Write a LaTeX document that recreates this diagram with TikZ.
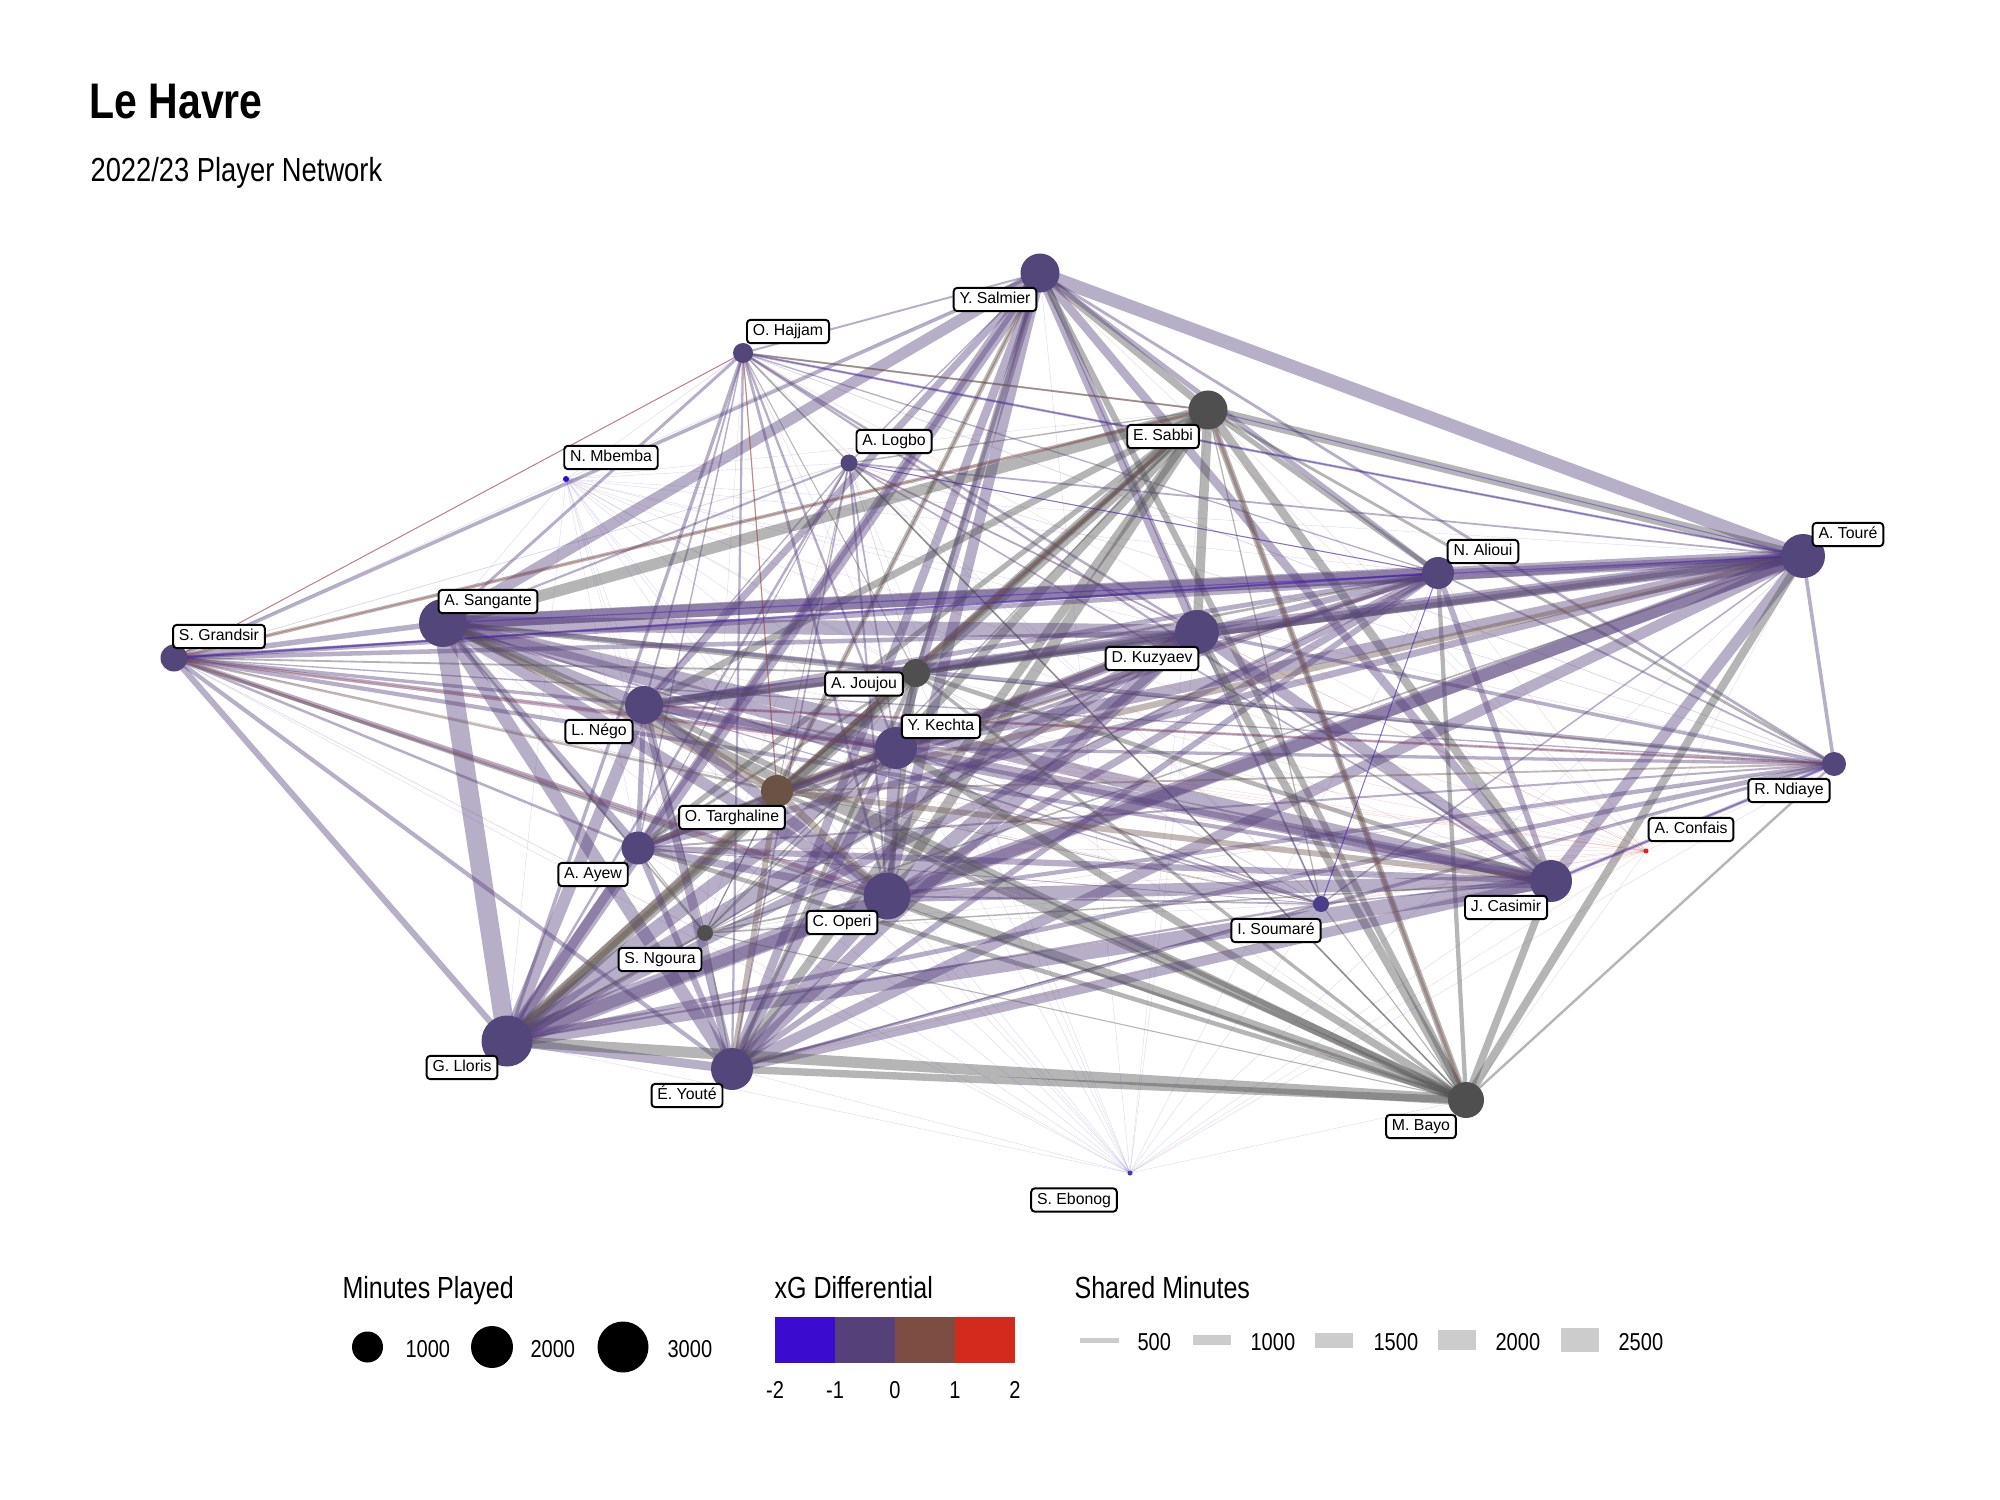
\documentclass[tikz,border=0pt]{standalone}
\usepackage{fontspec}
\setmainfont[FakeStretch=0.82]{Liberation Sans}
\newfontfamily\labfont{Liberation Sans}
\usetikzlibrary{calc}
\pgfdeclarelayer{bg}
\pgfdeclarelayer{edges}
\pgfsetlayers{bg,edges,main}
\definecolor{ec0}{HTML}{55407A}
\definecolor{ec2}{HTML}{7D4C42}
\definecolor{ec3}{HTML}{3C0BD0}
\definecolor{ec4}{HTML}{D22A1C}
\definecolor{ee0}{HTML}{55407A}
\definecolor{ee1}{HTML}{505050}
\definecolor{ee2}{HTML}{6E5850}
\definecolor{ee3}{HTML}{4A2FC0}
\definecolor{ee4}{HTML}{D22A1C}
\definecolor{nP}{HTML}{53467A}
\definecolor{nG}{HTML}{4F4F4F}
\definecolor{nBr}{HTML}{6A5244}
\definecolor{nBl}{HTML}{2A0FD0}
\definecolor{nRd}{HTML}{E3201B}
\definecolor{nEb}{HTML}{4B36B8}
\definecolor{nSo}{HTML}{4B3D8A}
\definecolor{keygray}{HTML}{CCCCCC}
\makeatletter
\newcommand\setfac[3]{\@namedef{ef@#1@#2}{#3}\@namedef{ef@#2@#1}{#3}}
\makeatother
\setfac{sal}{tou}{1.4}
\setfac{san}{ali}{1.8}
\setfac{san}{tou}{0.9}
\setfac{llo}{tou}{0.75}
\setfac{ope}{san}{0.7}
\setfac{llo}{you}{0.6}
\newcommand\drawedge[6]{%
  \ifcsname ef@#1@#4\endcsname\edef\efac{\csname ef@#1@#4\endcsname}\else\def\efac{1}\fi
  \pgfmathsetmacro\ew{max(0.12,0.186*\efac*(#2*#5/100)^2)}%
  \pgfmathsetmacro\eo{\ew<0.3 ? 0.22 : 0.42}%
  \pgfmathtruncatemacro\ecc{((#3==1)||(#6==1)) ? 1 : max(#3,#6)}%
  \draw[edge, draw=ee\ecc, draw opacity=\eo, line width=\ew pt] (#1.center) -- (#4.center);%
}
\newcommand\pnode[5]{%
  \pgfmathsetlengthmacro\pd{2*#4*0.36pt}%
  \node[pn=#5, minimum size=\pd] (#1) at (#2,#3) {};%
}
\def\plist{sal/19.5/0,haj/10/0,sab/19.5/1,log/8.5/0,mbe/3/3,ali/16/0,tou/22/0,san/24/0,gra/13.5/0,kuz/22/0,jou/14/1,neg/19/0,kec/21/0,ndi/12/0,tar/16/2,con/2.5/4,aye/16.5/0,ope/23.5/0,cas/21/0,sou/8/0,ngo/8/1,llo/25.5/0,you/21/0,bay/18/1,ebo/2.5/3}
\tikzset{
  pn/.style={circle, fill=#1, draw=none, inner sep=0pt, outer sep=0pt},
  edge/.style={line cap=butt},
  cedge/.style={draw opacity=0.4, line cap=butt},
  lab/.style={draw=black, line width=0.7pt, rounded corners=1.3pt, fill=white,
    font=\labfont\fontsize{5.7}{6.8}\selectfont, inner xsep=2.1pt, inner ysep=0pt,
    text height=4.2pt, text depth=1.2pt, minimum height=8.4pt},
  ru/.style={},
  ttl/.style={anchor=base west, inner sep=0pt, font=\fontsize{18}{22}\selectfont\bfseries},
  sub/.style={anchor=base west, inner sep=0pt, font=\fontsize{12}{14}\selectfont},
  lgt/.style={anchor=base west, inner sep=0pt, font=\fontsize{11}{13}\selectfont},
  lgx/.style={anchor=base west, inner sep=0pt, font=\fontsize{8.8}{10}\selectfont},
  lgc/.style={anchor=base, inner sep=0pt, font=\fontsize{8.8}{10}\selectfont},
}
\begin{document}
\begin{tikzpicture}[x=0.36pt, y=-0.36pt]
\begin{pgfonlayer}{bg}
\fill[white] (0,0) rectangle (2000,1500);
\end{pgfonlayer}
\useasboundingbox (0,0) rectangle (2000,1500);
% titles
\node[ttl] (title) at (89,119) {Le Havre};
\node[sub] (subtitle) at (90,182) {2022/23 Player Network};
% player nodes
\pnode{sal}{1040}{273}{19.5}{nP}
\pnode{haj}{743}{353}{10}{nP}
\pnode{sab}{1208}{410}{19.5}{nG}
\pnode{log}{849}{463}{8.5}{nP}
\pnode{mbe}{566}{479}{3}{nBl}
\pnode{ali}{1438}{573}{16}{nP}
\pnode{tou}{1803}{556}{22}{nP}
\pnode{san}{443}{623}{24}{nP}
\pnode{gra}{174}{658}{13.5}{nP}
\pnode{kuz}{1197}{632}{22}{nP}
\pnode{jou}{916}{673}{14}{nG}
\pnode{neg}{644}{705}{19}{nP}
\pnode{kec}{896}{748}{21}{nP}
\pnode{ndi}{1834}{764}{12}{nP}
\pnode{tar}{777}{791}{16}{nBr}
\pnode{con}{1646}{851}{2.5}{nRd}
\pnode{aye}{638}{848}{16.5}{nP}
\pnode{ope}{887}{896}{23.5}{nP}
\pnode{cas}{1551}{881}{21}{nP}
\pnode{sou}{1321}{904}{8}{nSo}
\pnode{ngo}{705}{933}{8}{nG}
\pnode{llo}{507}{1041}{25.5}{nP}
\pnode{you}{732}{1069}{21}{nP}
\pnode{bay}{1466}{1100}{18}{nG}
\pnode{ebo}{1130}{1173}{2.5}{nEb}
% edges
\begin{pgfonlayer}{edges}
\foreach \a/\ra/\ca [count=\i] in \plist {
  \foreach \b/\rb/\cb [count=\j] in \plist {
    \ifnum\j>\i \drawedge{\a}{\ra}{\ca}{\b}{\rb}{\cb}\fi
  }
}
\draw[cedge, draw=ec3, line width=0.6pt] (gra.center) -- (ali.center);
\draw[cedge, draw=ec3, line width=0.45pt] (san.center) -- (tou.center);
\draw[cedge, draw=ec4, line width=0.3pt] (gra.center) -- (haj.center);
\draw[cedge, draw=ec4, line width=0.3pt] (gra.center) -- (sab.center);
\draw[cedge, draw=ec4, line width=0.25pt] (gra.center) -- (kec.center);
\draw[cedge, draw=ec4, line width=0.25pt] (gra.center) -- (ope.center);
\draw[cedge, draw=ec4, line width=0.25pt] (haj.center) -- (tar.center);
\draw[cedge, draw=ec2, line width=0.5pt] (haj.center) -- (sab.center);
\draw[cedge, draw=ec2, line width=1.1pt] (sab.center) -- (bay.center);
\draw[cedge, draw=ec2, line width=1.1pt] (sab.center) -- (tar.center);
\draw[cedge, draw=ec4, line width=0.25pt] (ndi.center) -- (neg.center);
\draw[cedge, draw=ec3, line width=0.4pt] (haj.center) -- (tou.center);
\draw[cedge, draw=ec3, line width=0.4pt] (sab.center) -- (tou.center);
\draw[cedge, draw=ec3, line width=0.35pt] (log.center) -- (ali.center);
\draw[cedge, draw=ec3, line width=0.5pt] (cas.center) -- (ndi.center);
\draw[cedge, draw=ec3, line width=0.35pt] (sou.center) -- (ali.center);
\end{pgfonlayer}
% labels
\node[lab] (l-sal) at ($(sal)+(-45,26.5)$) {Y. Salmier};
\node[lab] (l-haj) at ($(haj)+(45,-21.5)$) {O. Hajjam};
\node[lab] (l-sab) at ($(sab)+(-45,26.5)$) {E. Sabbi};
\node[lab] (l-log) at ($(log)+(45,-21.5)$) {A. Logbo};
\node[lab] (l-mbe) at ($(mbe)+(45,-21.5)$) {N. Mbemba};
\node[lab] (l-ali) at ($(ali)+(45,-21.5)$) {N. Alioui};
\node[lab] (l-tou) at ($(tou)+(45,-21.5)$) {A. Touré};
\node[lab] (l-san) at ($(san)+(45,-21.5)$) {A. Sangante};
\node[lab] (l-gra) at ($(gra)+(45,-21.5)$) {S. Grandsir};
\node[lab] (l-kuz) at ($(kuz)+(-45,26.5)$) {D. Kuzyaev};
\node[lab] (l-jou) at ($(jou)+(-52,11)$) {A. Joujou};
\node[lab] (l-neg) at ($(neg)+(-45,26.5)$) {L. Négo};
\node[lab] (l-kec) at ($(kec)+(45,-21.5)$) {Y. Kechta};
\node[lab] (l-ndi) at ($(ndi)+(-45,26.5)$) {R. Ndiaye};
\node[lab] (l-tar) at ($(tar)+(-45,26.5)$) {O. Targhaline};
\node[lab] (l-con) at ($(con)+(45,-21.5)$) {A. Confais};
\node[lab] (l-aye) at ($(aye)+(-45,26.5)$) {A. Ayew};
\node[lab] (l-ope) at ($(ope)+(-45,26.5)$) {C. Operi};
\node[lab] (l-cas) at ($(cas)+(-45,26.5)$) {J. Casimir};
\node[lab] (l-sou) at ($(sou)+(-45,26.5)$) {I. Soumaré};
\node[lab] (l-ngo) at ($(ngo)+(-45,26.5)$) {S. Ngoura};
\node[lab] (l-llo) at ($(llo)+(-45,26.5)$) {G. Lloris};
\node[lab] (l-you) at ($(you)+(-45,26.5)$) {É. Youté};
\node[lab] (l-bay) at ($(bay)+(-45,26.5)$) {M. Bayo};
\node[lab] (l-ebo) at ($(ebo)+(-56,27)$) {S. Ebonog};
% legend: minutes played
\node[lgt] (lt-min) at (342,1298) {Minutes Played};
\pnode{lc1}{367.5}{1347}{15.5}{black}
\pnode{lc2}{492}{1347}{21}{black}
\pnode{lc3}{623}{1347}{25.5}{black}
\node[lgx] (lx1) at (405,1357) {1000};
\node[lgx] (lx2) at (530,1357) {2000};
\node[lgx] (lx3) at (667,1357) {3000};
% legend: xG differential
\node[lgt] (lt-xg) at (774,1298) {xG Differential};
\fill[ec3] (775,1317) rectangle (835,1363);
\fill[ec0] (835,1317) rectangle (895,1363);
\fill[ec2] (895,1317) rectangle (955,1363);
\fill[ec4] (955,1317) rectangle (1015,1363);
\node[lgc] (xg1) at (775,1398) {-2};
\node[lgc] (xg2) at (835,1398) {-1};
\node[lgc] (xg3) at (895,1398) {0};
\node[lgc] (xg4) at (955,1398) {1};
\node[lgc] (xg5) at (1015,1398) {2};
% legend: shared minutes
\node[lgt] (lt-sh) at (1074,1298) {Shared Minutes};
\fill[keygray] (1080,1337.5) rectangle (1119,1342.5);
\fill[keygray] (1193,1335) rectangle (1231,1345);
\fill[keygray] (1315,1332.5) rectangle (1353,1347.5);
\fill[keygray] (1438,1330) rectangle (1476,1350);
\fill[keygray] (1561,1328) rectangle (1599,1352);
\node[lgx] (sx1) at (1137,1350) {500};
\node[lgx] (sx2) at (1250,1350) {1000};
\node[lgx] (sx3) at (1373,1350) {1500};
\node[lgx] (sx4) at (1495,1350) {2000};
\node[lgx] (sx5) at (1618,1350) {2500};
\end{tikzpicture}
\end{document}
